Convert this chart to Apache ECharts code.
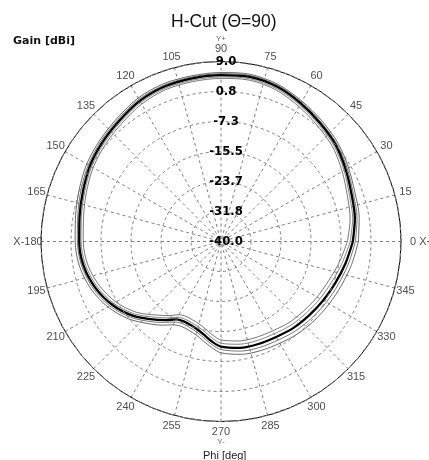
<!DOCTYPE html>
<html><head><meta charset="utf-8">
<script src="https://cdn.jsdelivr.net/npm/echarts@6/dist/echarts.min.js"></script>
<style>html,body{margin:0;padding:0;background:#fff}#c{width:429px;height:460px}</style>
</head><body><div id="c"></div>
<script>
const phi = [0,10,20,30,40,50,60,70,80,90,100,110,120,130,140,150,160,170,180,190,200,210,220,230,235,240,245,250,255,260,265,270,280,290,300,310,320,330,340,350,360];
const gainMain = [-4.1,-3.0,-2.2,-0.8,0.8,2.0,3.4,4.8,5.5,5.3,5.1,4.9,4.2,3.0,2.1,1.2,0.0,-0.9,-1.4,-2.0,-3.5,-5.7,-8.6,-12.2,-13.9,-15.5,-16.0,-15.8,-15.2,-14.1,-12.6,-11.4,-10.6,-10.3,-10.0,-9.3,-8.7,-7.9,-6.9,-5.6,-4.1];
const gainA = [-2.6,-1.8,-1.2,0.1,1.6,2.8,4.1,5.5,6.2,6.0,5.8,5.7,5.1,3.9,3.0,2.2,1.1,0.2,-0.3,-0.9,-2.3,-4.4,-7.2,-10.6,-12.2,-13.8,-14.5,-14.3,-13.7,-12.5,-11.0,-9.7,-8.8,-8.4,-8.0,-7.3,-6.7,-6.0,-5.1,-3.9,-2.6];
const gainB = [-3.4,-2.4,-1.7,-0.3,1.2,2.4,3.8,5.2,5.9,5.7,5.5,5.3,4.7,3.5,2.6,1.7,0.6,-0.4,-0.9,-1.5,-2.9,-5.0,-7.9,-11.4,-13.1,-14.7,-15.3,-15.1,-14.5,-13.3,-11.8,-10.6,-9.7,-9.3,-9.0,-8.3,-7.7,-6.9,-6.0,-4.8,-3.4];
const gainC = [-4.8,-3.6,-2.8,-1.3,0.3,1.5,2.9,4.3,5.0,4.8,4.6,4.4,3.7,2.5,1.6,0.7,-0.5,-1.4,-1.9,-2.6,-4.1,-6.3,-9.3,-13.0,-14.6,-16.2,-16.7,-16.5,-16.0,-15.0,-13.5,-12.3,-11.6,-11.3,-11.0,-10.3,-9.7,-8.9,-7.9,-6.5,-4.8];
const gainD = [-5.6,-4.3,-3.4,-1.9,-0.2,1.0,2.4,3.9,4.6,4.4,4.2,4.0,3.2,2.0,1.1,0.2,-1.0,-2.0,-2.5,-3.2,-4.8,-7.0,-10.0,-13.8,-15.4,-17.0,-17.5,-17.3,-16.8,-15.8,-14.4,-13.2,-12.5,-12.2,-11.9,-11.2,-10.6,-9.8,-8.8,-7.3,-5.6];
const radiusTickLabels = ['-40.0','-31.8','-23.7','-15.5','-7.3','0.8','9.0'];
const angleTickValues = [0,15,30,45,60,75,90,105,120,135,150,165,180,195,210,225,240,255,270,285,300,315,330,345];
const angleTickLabels = ['0 X+','15','30','45','60','75','{s|Y+}\n90','105','120','135','150','165','X-180','195','210','225','240','255','270\n{s|Y-}','285','300','315','330','345'];
const gainMin = -40, gainMax = 9;
const ringStep = (gainMax - gainMin) / 6;

const polarRadiusPx = 180;
const labelRadiusPx = 191;

function wrapAngle(p) { return p < 90 ? p + 360 : p; }
function toPolar(g) {
  return phi.map((p, i) => [g[i] - gainMin, wrapAngle(p)]);
}
function lineSeries(g, color, width, z) {
  return {type:'line', coordinateSystem:'polar', data:toPolar(g), smooth:0.3, symbol:'none',
    lineStyle:{color:color, width:width}, z:z, silent:true, animation:false, clip:false};
}

const labelValueR = (gainMax - gainMin) * labelRadiusPx / polarRadiusPx;
const angleLabelData = angleTickValues.map((a, i) => {
  const item = {name: angleTickLabels[i], value: [labelValueR, wrapAngle(a)]};
  if (a === 0) {
    item.value = [(gainMax - gainMin) * 189 / polarRadiusPx, 360];
    item.label = {align:'left'};
  } else if (a === 180) {
    item.value = [(gainMax - gainMin) * 193 / polarRadiusPx, 180];
  } else if (a === 90) {
    item.value = [(gainMax - gainMin) * 197 / polarRadiusPx, 90];
  } else if (a === 270) {
    item.value = [(gainMax - gainMin) * 195 / polarRadiusPx, 270];
  }
  return item;
});

const chart = echarts.init(document.getElementById('c'), null, {renderer:'canvas'});
chart.setOption({
  animation:false,
  backgroundColor:'#fff',
  title:[
    {text:'H-Cut (Θ=90)', left:166, top:8, textStyle:{fontFamily:'Liberation Sans', fontSize:17.5, fontWeight:'normal', color:'#111'}},
    {text:'Gain [dBi]', left:8, top:31, textStyle:{fontFamily:'DejaVu Sans', fontSize:11, fontWeight:'bold', color:'#111'}},
    {text:'Phi [deg]', left:198, top:445, textStyle:{fontFamily:'Liberation Sans', fontSize:11, fontWeight:'normal', color:'#222'}}
  ],
  polar:{center:[221, 241.5], radius:polarRadiusPx},
  angleAxis:{
    type:'value', min:90, max:450, interval:15, startAngle:90, clockwise:false,
    axisLine:{show:true, lineStyle:{color:'#000', width:1}},
    axisTick:{show:false},
    axisLabel:{show:false},
    splitLine:{show:true, lineStyle:{color:'#808080', width:1, type:[3,3]}}
  },
  radiusAxis:{
    type:'value', min:0, max:gainMax - gainMin, interval:ringStep,
    axisLine:{show:false}, axisTick:{show:false},
    axisLabel:{
      show:true, showMinLabel:true, showMaxLabel:true,
      margin:-5, align:'center', verticalAlign:'middle',
      color:'#000', fontFamily:'DejaVu Sans Condensed, DejaVu Sans', fontSize:13, fontWeight:'bold',
      formatter:function(v){ return radiusTickLabels[Math.round(v / ringStep)]; }
    },
    splitLine:{show:true, lineStyle:{color:'#808080', width:1, type:[3,3]}},
    z:10
  },
  series:[
    lineSeries(gainD, '#555', 0.8, 2),
    lineSeries(gainA, '#444', 0.8, 2),
    lineSeries(gainC, '#777', 0.9, 3),
    lineSeries(gainB, '#666', 0.9, 3),
    lineSeries(gainMain, '#000', 2.3, 4),
    {
      type:'scatter', coordinateSystem:'polar', data:angleLabelData, symbolSize:0, clip:false,
      silent:true, animation:false, z:5,
      label:{show:true, position:'inside', formatter:function(p){ return p.name; },
        color:'#222', fontFamily:'Liberation Sans', fontSize:11, align:'center', verticalAlign:'middle',
        lineHeight:11,
        rich:{s:{fontSize:8, lineHeight:9, color:'#444', fontFamily:'Liberation Sans'}}}
    }
  ]
});
</script>
</body></html>
